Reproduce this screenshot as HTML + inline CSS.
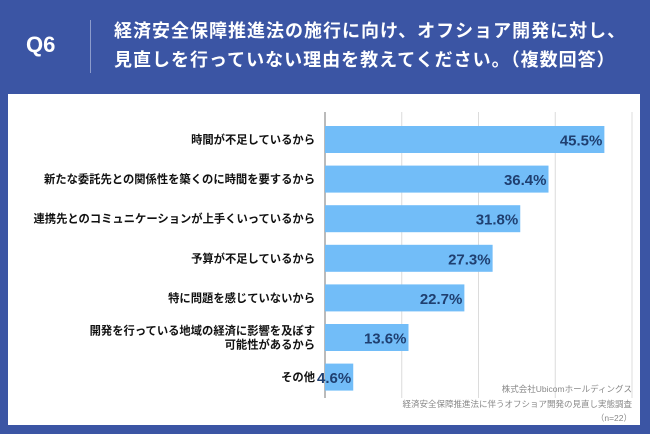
<!DOCTYPE html>
<html><head><meta charset="utf-8"><style>
body{margin:0;width:650px;height:434px;background:#3b55a4;overflow:hidden;font-family:"Liberation Sans","Noto Sans CJK JP",sans-serif;position:relative}
.h{position:absolute;color:#fff;font-weight:bold}
</style></head><body>
<div class="h" style="left:26px;top:32px;font-size:22px">Q6</div>
<div style="position:absolute;left:90px;top:20px;width:1px;height:53px;background:#8c9ccc"></div>
<div class="h" style="left:114px;top:17px;font-size:18px;line-height:29px;letter-spacing:1px">経済安全保障推進法の施行に向け、オフショア開発に対し、<br>見直しを行っていない理由を教えてください。（複数回答）</div>
<div style="position:absolute;left:8px;top:94px;width:632px;height:331px;background:#fff"></div>
<svg id="c" width="650" height="434" style="position:absolute;left:0;top:0"></svg>
<script>
const categories=["時間が不足しているから","新たな委託先との関係性を築くのに時間を要するから","連携先とのコミュニケーションが上手くいっているから","予算が不足しているから","特に問題を感じていないから","開発を行っている地域の経済に影響を及ぼす|可能性があるから","その他"];
const values=[45.5,36.4,31.8,27.3,22.7,13.6,4.6];
const gridTicks=[0,12.5,25,37.5,50];
const NS="http://www.w3.org/2000/svg",svg=document.getElementById('c');
const x0=325,pxPer=307/50,top0=126,pitch=39.6,bh=27;
const xs=v=>x0+v*pxPer, ys=i=>top0+i*pitch;
function mk(t,a){const e=document.createElementNS(NS,t);for(const k in a)e.setAttribute(k,a[k]);svg.appendChild(e);return e;}
gridTicks.forEach((g,i)=>{const l=mk('line',{x1:xs(g),x2:xs(g),y1:112,y2:398,stroke:i?'#dcdcdc':'#777','stroke-width':1});

});
values.forEach((v,i)=>{
const r=mk('rect',{x:x0,y:ys(i),width:xs(v)-x0,height:bh,fill:'#72bdf8'});


const t=mk('text',{x:xs(v)-2,y:ys(i)+bh/2+6,'text-anchor':'end','font-size':15,'font-weight':'bold',fill:'#1f3f70'});
t.textContent=v.toFixed(1)+'%';


const parts=categories[i].split('|');
parts.forEach((p,j)=>{const c=mk('text',{x:315,y:ys(i)+bh/2+4+(j-(parts.length-1)/2)*14,'text-anchor':'end','font-size':11.3,'font-weight':'bold',fill:'#111'});
c.textContent=p;

});
});
[["株式会社Ubicomホールディングス",392],["経済安全保障推進法に伴うオフショア開発の見直し実態調査",407],["（n=22）",421]].forEach(s=>{
const t=mk('text',{x:632,y:s[1],'text-anchor':'end','font-size':8.5,fill:'#888'});t.textContent=s[0];

});
</script>
</body></html>
